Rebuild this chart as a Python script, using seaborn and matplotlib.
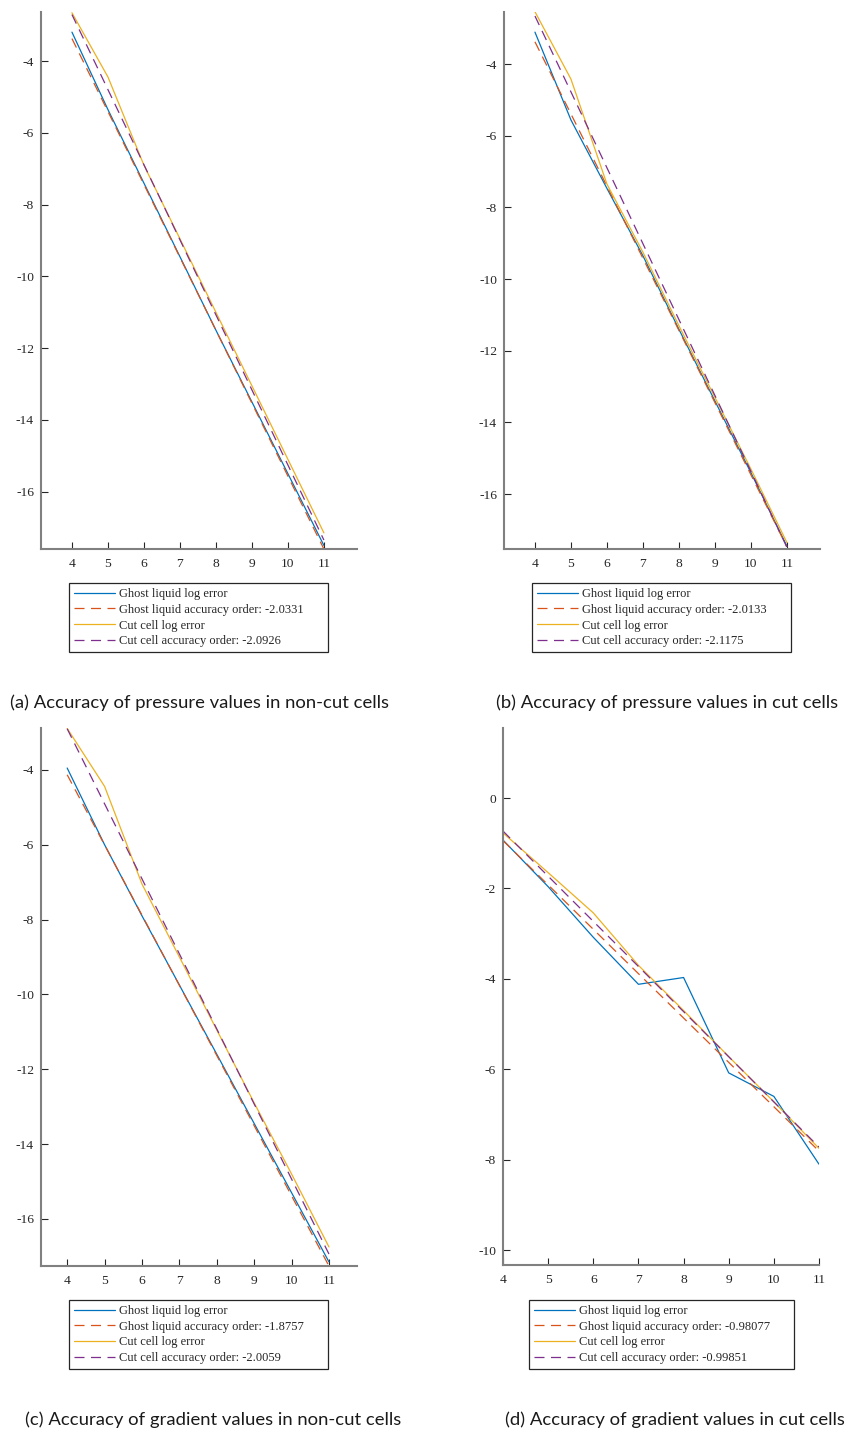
import numpy as np
import pandas as pd
import matplotlib
matplotlib.use("Agg")
import matplotlib.pyplot as plt
import seaborn as sns

# refinement levels (x axis) and the two x values the fitted lines span
levels = [4, 5, 6, 7, 8, 9, 10, 11]
fit_levels = [4, 11]

# (a) pressure values, non-cut cells
a_ghost = [-3.19, -5.35, -7.4, -9.45, -11.5, -13.5, -15.5, -17.5]
a_ghost_fit = [-3.37, -17.6]
a_cut = [-2.65, -4.44, -6.9, -8.95, -11.0, -13.05, -15.1, -17.15]
a_cut_fit = [-2.7, -17.35]
a_orders = ["-2.0331", "-2.0926"]

# (b) pressure values, cut cells
b_ghost = [-3.11, -5.56, -7.47, -9.35, -11.4, -13.4, -15.4, -17.45]
b_ghost_fit = [-3.38, -17.47]
b_cut = [-2.54, -4.42, -7.35, -9.25, -11.3, -13.3, -15.3, -17.35]
b_cut_fit = [-2.66, -17.48]
b_orders = ["-2.0133", "-2.1175"]

# (c) gradient values, non-cut cells
c_ghost = [-3.95, -6.0, -7.9, -9.75, -11.6, -13.45, -15.3, -17.15]
c_ghost_fit = [-4.13, -17.26]
c_cut = [-2.89, -4.44, -7.05, -9.0, -10.95, -12.9, -14.8, -16.75]
c_cut_fit = [-2.9, -16.94]
c_orders = ["-1.8757", "-2.0059"]

# (d) gradient values, cut cells
d_ghost = [-0.93, -1.96, -3.08, -4.12, -3.97, -6.08, -6.6, -8.1]
d_ghost_fit = [-0.94, -7.81]
d_cut = [-0.77, -1.65, -2.54, -3.7, -4.7, -5.72, -6.72, -7.75]
d_cut_fit = [-0.73, -7.72]
d_orders = ["-0.98077", "-0.99851"]

captions = ["(a) Accuracy of pressure values in non-cut cells",
            "(b) Accuracy of pressure values in cut cells",
            "(c) Accuracy of gradient values in non-cut cells",
            "(d) Accuracy of gradient values in cut cells"]

blue, orange, yellow, purple = "#0072BD", "#D95319", "#EDB120", "#7E2F8E"

sns.set_style("ticks")
plt.rcParams["font.family"] = ["Liberation Serif", "DejaVu Serif"]
plt.rcParams["axes.unicode_minus"] = False

fig = plt.figure(figsize=(8.64, 14.35), dpi=100)
W, H = 864, 1435


def add_axes(left, top, right, bottom):
    return fig.add_axes([left / W, 1 - bottom / H, (right - left) / W, (bottom - top) / H])


def draw_panel(ax, box, ghost, ghost_fit, cut, cut_fit, orders, xlim, ylim, yticks):
    dash = (0, (8, 5.2))
    sns.lineplot(x=levels, y=ghost, ax=ax, color=blue, lw=0.9,
                 label="Ghost liquid log error")
    sns.lineplot(x=fit_levels, y=ghost_fit, ax=ax, color=orange, lw=0.9, linestyle=dash,
                 label="Ghost liquid accuracy order: " + orders[0])
    sns.lineplot(x=levels, y=cut, ax=ax, color=yellow, lw=0.9,
                 label="Cut cell log error")
    sns.lineplot(x=fit_levels, y=cut_fit, ax=ax, color=purple, lw=0.9, linestyle=dash,
                 label="Cut cell accuracy order: " + orders[1])
    ax.set_xlim(*xlim)
    ax.set_ylim(*ylim)
    ax.set_xticks(levels)
    ax.set_yticks(yticks)
    ax.set_xlabel("")
    ax.set_ylabel("")
    sns.despine(ax=ax)
    for s in ["left", "bottom"]:
        ax.spines[s].set_color("#808080")
        ax.spines[s].set_linewidth(1.5)
    ax.tick_params(direction="in", length=5, width=0.8, color="#262626",
                   labelcolor="#262626", labelsize=9.7)
    ax.tick_params(axis="y", pad=5)
    ax.tick_params(axis="x", pad=6.5)

    # legend box below the axes, in figure pixels (left, top, width)
    bb = ax.get_position()
    x0 = (box[0] / W - bb.x0) / bb.width
    y0 = ((1 - box[1] / H) - bb.y0) / bb.height
    w = (box[2] / W) / bb.width
    leg = ax.legend(loc="upper left", bbox_to_anchor=(x0, y0, w, 0), mode="expand",
                    fontsize=9, frameon=True, fancybox=False, framealpha=1,
                    edgecolor="#262626", handlelength=3.3, handletextpad=0.3,
                    labelspacing=0.3, borderpad=0.4, borderaxespad=0)
    leg.get_frame().set_linewidth(0.9)


ax_a = add_axes(41, 11.7, 357, 549)
draw_panel(ax_a, (69, 583, 259), a_ghost, a_ghost_fit, a_cut, a_cut_fit, a_orders,
           (3.14, 11.92), (-17.6, -2.62), np.arange(-16, -3, 2))

ax_b = add_axes(504, 11.7, 820, 549)
draw_panel(ax_b, (532, 583, 259), b_ghost, b_ghost_fit, b_cut, b_cut_fit, b_orders,
           (3.14, 11.92), (-17.53, -2.54), np.arange(-16, -3, 2))

ax_c = add_axes(41, 728, 357, 1266)
draw_panel(ax_c, (69, 1300, 259), c_ghost, c_ghost_fit, c_cut, c_cut_fit, c_orders,
           (3.3, 11.75), (-17.26, -2.88), np.arange(-16, -3, 2))

ax_d = add_axes(503, 728, 819, 1265)
draw_panel(ax_d, (529, 1300, 265), d_ghost, d_ghost_fit, d_cut, d_cut_fit, d_orders,
           (4, 11), (-10.33, 1.55), np.arange(-10, 1, 2))

cap_font = ["Lato", "DejaVu Sans"]
cap_pos = [(199, 703), (667, 703), (213, 1420), (675, 1420)]
for text, (cx, cy) in zip(captions, cap_pos):
    fig.text(cx / W, 1 - cy / H, text, ha="center", va="center",
             fontsize=13.3, family=cap_font, color="#1a1a1a")

fig.savefig("out.png", dpi=100)
